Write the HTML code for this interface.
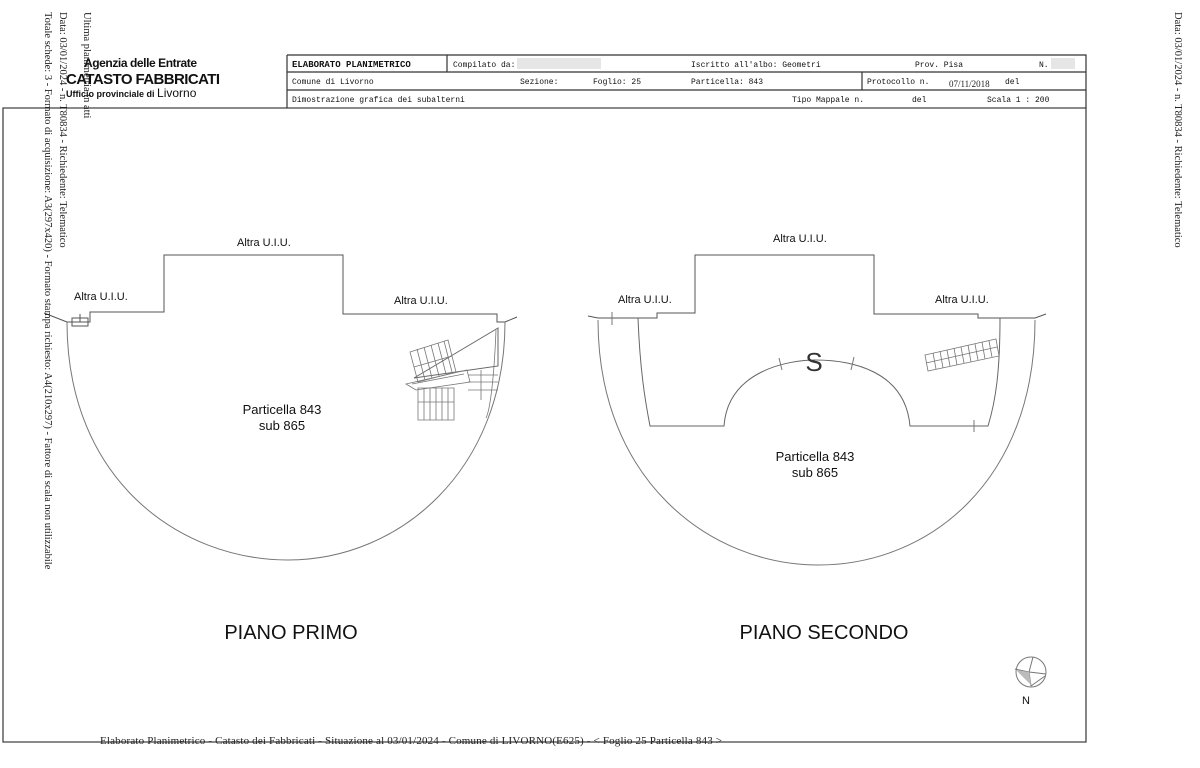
<!DOCTYPE html>
<html><head><meta charset="utf-8"><style>
body{margin:0;width:1200px;height:768px;background:#fff;overflow:hidden;position:relative;font-family:"Liberation Sans",sans-serif}
.v{position:absolute;transform-origin:0 0;transform:rotate(90deg);white-space:nowrap;font-family:"Liberation Serif",serif;font-size:10.5px;color:#222}
svg{position:absolute;left:0;top:0}
</style></head><body>
<svg width="1200" height="768" viewBox="0 0 1200 768">
<g fill="none" stroke="#555" stroke-width="1">
<path d="M3,108 H1086 V742 H3 Z" stroke="#444" stroke-width="1.3"/>
<path d="M287,55 H1086 V108 M287,55 V108 M287,72 H1086 M287,90 H1086 M447,55 V72 M862,72 V90" stroke="#333" stroke-width="1.2"/>
<path d="M44,313 L67,322 M67,322 L90,322 L90,312 L164,312 L164,255 L343,255 L343,314 L497,314 L497,322 L505,322 L517,317"/>
<path d="M67,322 C67,480 180,560 288,560 C400,560 505,470 505,322" stroke="#777"/>
<path d="M72,318 h16 v8 h-16 z M72,322 h16 M80,314 v8"/>
<path d="M498,328 L414,378 L498,366 Z" stroke="#666"/>
<g stroke="#777" stroke-width="0.8">
<path d="M410,352 L448,340 L456,372 L418,382 Z"/>
<path d="M417,349 L425,380 M424,347 L432,378 M431,345 L439,376 M438,343 L446,374 M444,341 L452,372 M414,367 L452,356"/>
<path d="M406,384 L467,370 L470,382 L416,390 Z M412,384 L464,374"/>
<path d="M418,388 H454 V420 H418 Z M424,388 V420 M430,388 V420 M436,388 V420 M442,388 V420 M448,388 V420 M418,402 H454"/>
<path d="M468,375 H498 M468,382 H498 M468,390 H498 M481,370 V400"/>
<path d="M496,330 C494,380 490,410 486,418"/>
</g>
<path d="M598,320 C598,480 710,565 818,565 C930,565 1035,480 1035,320" stroke="#777"/>
<path d="M588,316 L598,318 L657,318 L657,313 L695,313 L695,255 L874,255 L874,314 L978,314 L978,318 L1035,318 L1046,314"/>
<path d="M638,318 C640,370 645,400 650,426 H724 C728,370 790,360 815,360 C850,360 905,370 910,426 H988 C996,400 1000,370 1000,318" stroke="#666"/>
<path d="M612,312 V325 M779,358 L782,370 M854,357 L851,370 M974,420 V432" stroke="#777"/>
<g stroke="#777" stroke-width="0.8">
<path d="M925,355 L996,339 L999,356 L928,371 Z M926,363 L997,347"/>
<path d="M933,353 L936,369 M940,351 L943,368 M947,350 L950,366 M954,348 L957,365 M961,347 L964,363 M968,345 L971,362 M975,344 L978,360 M982,342 L985,359 M989,341 L992,357"/>
</g>
<circle cx="1031" cy="672" r="15" stroke="#777"/>
<path d="M1015,669 L1029,672 L1031,686 M1029,672 L1033,657 M1029,672 L1046,674 M1031,686 L1045,676" stroke="#777"/>
<path d="M1016,670 L1029,672 L1031,685 Z" fill="#bbb" stroke="none"/>
</g>
<rect x="517" y="58" width="84" height="11" fill="#e6e6e6"/>
<rect x="1051" y="58" width="24" height="11" fill="#e6e6e6"/>
<g font-family="Liberation Sans, sans-serif" font-size="11" fill="#111">
<text x="74" y="300">Altra U.I.U.</text>
<text x="237" y="246">Altra U.I.U.</text>
<text x="394" y="304">Altra U.I.U.</text>
<text x="618" y="303">Altra U.I.U.</text>
<text x="773" y="242">Altra U.I.U.</text>
<text x="935" y="303">Altra U.I.U.</text>
<text x="282" y="414" font-size="13" text-anchor="middle">Particella 843</text>
<text x="282" y="430" font-size="13" text-anchor="middle">sub 865</text>
<text x="815" y="461" font-size="13" text-anchor="middle">Particella 843</text>
<text x="815" y="477" font-size="13" text-anchor="middle">sub 865</text>
<text x="291" y="639" font-size="20" text-anchor="middle">PIANO PRIMO</text>
<text x="824" y="639" font-size="20" text-anchor="middle">PIANO SECONDO</text>
<text x="814" y="371" font-size="26" text-anchor="middle" fill="#333">S</text>
<text x="1026" y="704" font-size="11" text-anchor="middle">N</text>
<text x="84" y="67" font-size="12" font-weight="bold" textLength="113">Agenzia delle Entrate</text>
<text x="66" y="84" font-size="15" font-weight="bold" textLength="154">CATASTO FABBRICATI</text>
<text x="66" y="97" font-size="9" font-weight="bold">Ufficio provinciale di <tspan font-size="12" font-weight="normal">Livorno</tspan></text>
</g>
<g font-family="Liberation Mono, monospace" font-size="8" fill="#111">
<text x="292" y="67" font-weight="bold" font-size="9">ELABORATO PLANIMETRICO</text>
<text x="453" y="67">Compilato da:</text>
<text x="691" y="67">Iscritto all'albo: Geometri</text>
<text x="915" y="67">Prov. Pisa</text>
<text x="1039" y="67">N.</text>
<text x="292" y="84">Comune di Livorno</text>
<text x="520" y="84">Sezione:</text>
<text x="593" y="84">Foglio: 25</text>
<text x="691" y="84">Particella: 843</text>
<text x="867" y="84">Protocollo n.</text>
<text x="1005" y="84">del</text>
<text x="292" y="102">Dimostrazione grafica dei subalterni</text>
<text x="792" y="102">Tipo Mappale n.</text>
<text x="912" y="102">del</text>
<text x="987" y="102">Scala 1 : 200</text>
</g>
<text x="949" y="87" font-family="Liberation Serif, serif" font-size="9" fill="#222">07/11/2018</text>
<text x="100" y="744" font-family="Liberation Serif, serif" font-size="11" fill="#222" textLength="622">Elaborato Planimetrico - Catasto dei Fabbricati - Situazione al 03/01/2024 - Comune di LIVORNO(E625) - &lt; Foglio 25 Particella 843 &gt;</text>
</svg>
<div class="v" style="left:92px;top:12px">Ultima planimetria in atti</div>
<div class="v" style="left:68px;top:12px">Data: 03/01/2024 - n. T80834 - Richiedente: Telematico</div>
<div class="v" style="left:53px;top:12px">Totale schede: 3 - Formato di acquisizione: A3(297x420) - Formato stampa richiesto: A4(210x297) - Fattore di scala non utilizzabile</div>
<div class="v" style="left:1183px;top:12px">Data: 03/01/2024 - n. T80834 - Richiedente: Telematico</div>
</body></html>
